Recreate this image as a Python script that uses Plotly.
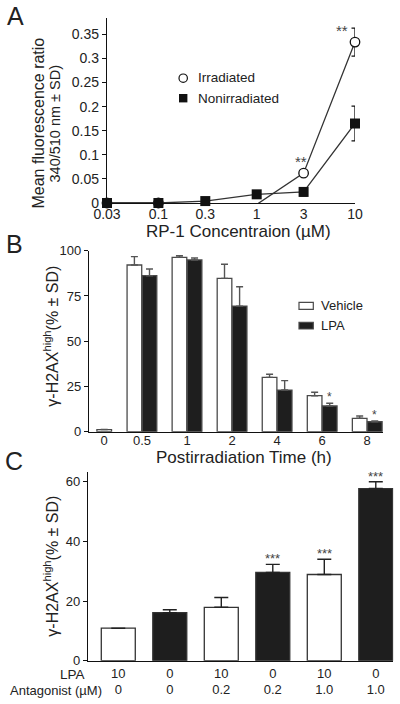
import math
import plotly.graph_objects as go

# ---------------- Panel A data ----------------
conc = [0.03, 0.1, 0.3, 1, 3, 10]
conc_labels = ["0.03", "0.1", "0.3", "1", "3", "10"]
irradiated = [0.0, 0.0, -0.004, -0.003, 0.062, 0.334]
irradiated_sd = [None, None, None, None, 0.004, 0.029]
nonirradiated = [0.0, 0.0, 0.004, 0.018, 0.023, 0.165]
nonirradiated_sd = [None, None, None, None, 0.008, 0.036]
irradiated_sig = ["", "", "", "", "**", "**"]
a_yticks = [0, 0.05, 0.1, 0.15, 0.2, 0.25, 0.3, 0.35]
a_yticklabels = ["0", "0.05", "0.1", "0.15", "0.2", "0.25", "0.3", "0.35"]

# ---------------- Panel B data ----------------
times = ["0", "0.5", "1", "2", "4", "6", "8"]
vehicle = [1.2, 92.1, 96.3, 84.7, 30.0, 19.9, 7.4]
vehicle_sd = [None, 4.6, 0.9, 7.8, 1.7, 1.9, 1.3]
lpa = [None, 86.2, 94.9, 69.4, 23.0, 14.2, 5.5]
lpa_sd = [None, 3.7, 1.1, 10.7, 5.2, 1.5, 0.4]
lpa_sig = ["", "", "", "", "", "*", "*"]
b_yticks = [0, 25, 50, 75, 100]

# ---------------- Panel C data ----------------
c_lpa = ["10", "0", "10", "0", "10", "0"]
c_antagonist = ["0", "0", "0.2", "0.2", "1.0", "1.0"]
c_values = [10.9, 16.1, 17.9, 29.6, 28.9, 57.7]
c_sd = [None, 1.0, 3.3, 2.7, 5.1, 2.3]
c_sig = ["", "", "", "***", "***", "***"]
c_yticks = [0, 20, 40, 60]

# ---------------- styling ----------------
W, H = 400, 704
FONT = "Liberation Sans, Arial, Helvetica, sans-serif"
TXT = "#222222"
BLACK = "#1e1e1e"
EDGE = "#4a4a4a"


def fx(p):
    return p / W


def fy(p):
    return 1 - p / H


fig = go.Figure()

# ---- Panel A ----
fig.add_trace(go.Scatter(
    x=conc, y=irradiated, xaxis="x", yaxis="y", mode="lines+markers",
    line=dict(color="#333333", width=1.3),
    marker=dict(symbol="circle", size=9.5, color="white", line=dict(color="#111111", width=1.3)),
    error_y=dict(type="data", array=irradiated_sd, color="#111111", thickness=1.3, width=3.5),
    cliponaxis=False, name="Irradiated"))
fig.add_trace(go.Scatter(
    x=conc, y=nonirradiated, xaxis="x", yaxis="y", mode="lines+markers",
    line=dict(color="#333333", width=1.3),
    marker=dict(symbol="square", size=10, color="#111111", line=dict(color="#111111", width=0)),
    error_y=dict(type="data", array=nonirradiated_sd, color="#111111", thickness=1.3, width=3.5),
    cliponaxis=False, name="Nonirradiated"))

# ---- Panel B ----
bw = 0.325
veh_offset = [0 if l is None else -bw - 0.005 for l in lpa]
fig.add_trace(go.Bar(
    x=list(range(len(times))), y=vehicle, xaxis="x2", yaxis="y2",
    width=bw, offset=veh_offset,
    marker=dict(color="white", line=dict(color=EDGE, width=1.3)),
    error_y=dict(type="data", symmetric=False, array=vehicle_sd,
                 arrayminus=[0] * len(times), color="#555555", thickness=1.4, width=3.5),
    name="Vehicle"))
fig.add_trace(go.Bar(
    x=list(range(len(times))), y=lpa, xaxis="x2", yaxis="y2",
    width=bw, offset=0.005,
    marker=dict(color=BLACK, line=dict(color=EDGE, width=1.3)),
    error_y=dict(type="data", symmetric=False, array=lpa_sd,
                 arrayminus=[0] * len(times), color="#555555", thickness=1.4, width=3.5),
    name="LPA"))

# ---- Panel C ----
c_colors = ["white" if l != "0" else BLACK for l in c_lpa]
fig.add_trace(go.Bar(
    x=list(range(len(c_values))), y=c_values, xaxis="x3", yaxis="y3",
    width=0.66,
    marker=dict(color=c_colors, line=dict(color="#333333", width=1.3)),
    error_y=dict(type="data", symmetric=False, array=c_sd,
                 arrayminus=[0] * len(c_values), color="#222222", thickness=1.4, width=7),
    name="C"))

axis_common = dict(showline=True, linecolor="#111111", linewidth=1.4, showgrid=False,
                   zeroline=False, automargin=False,
                   tickfont=dict(family=FONT, size=14, color=TXT))
yaxis_common = dict(axis_common, ticks="outside", ticklen=4, tickwidth=1.3, tickcolor="#111111")

b_tickvals = [i + (bw / 2 if lpa[i] is None else 0) for i in range(len(times))]

fig.update_layout(
    template="none",
    width=W, height=H, margin=dict(l=0, r=0, t=0, b=0, pad=0, autoexpand=False),
    paper_bgcolor="white", plot_bgcolor="white", showlegend=False, barmode="overlay",
    font=dict(family=FONT, color=TXT),
    xaxis=dict(axis_common, type="log", domain=[fx(107), fx(355)],
               range=[math.log10(0.03), 1], anchor="y", tickvals=conc, ticktext=conc_labels,
               ticks="", ticklabelstandoff=-2),
    yaxis=dict(yaxis_common, domain=[fy(203), fy(18)], range=[0, 0.384], anchor="x",
               tickvals=a_yticks, ticktext=a_yticklabels),
    xaxis2=dict(axis_common, domain=[fx(89), fx(383)], range=[-0.175, 6.35], anchor="y2",
                tickvals=b_tickvals, ticktext=times, ticks="", ticklabelstandoff=-4,
                tickfont=dict(family=FONT, size=13, color=TXT)),
    yaxis2=dict(yaxis_common, domain=[fy(431.7), fy(250.7)], range=[0, 100], anchor="x2",
                tickvals=b_yticks, tickfont=dict(family=FONT, size=13, color=TXT)),
    xaxis3=dict(axis_common, domain=[fx(88), fx(393.3)], range=[-0.588, 5.34], anchor="y3",
                tickvals=list(range(len(c_values))),
                ticktext=[f"{l}<br>{a}" for l, a in zip(c_lpa, c_antagonist)], ticks="",
                tickfont=dict(family=FONT, size=13, color=TXT)),
    yaxis3=dict(yaxis_common, domain=[fy(660.7), fy(471.7)], range=[0, 63.35], anchor="x3",
                tickvals=c_yticks, tickfont=dict(family=FONT, size=13, color=TXT)),
)

ann = []


def text_px(x, y, s, size, angle=0, xanchor="center", color=TXT):
    ann.append(dict(x=fx(x), y=fy(y), xref="paper", yref="paper", text=s, showarrow=False,
                    xanchor=xanchor, yanchor="middle", textangle=angle,
                    font=dict(family=FONT, size=size, color=color)))


# panel letters
text_px(15.5, 16, "A", 25)
text_px(14.5, 244, "B", 25)
text_px(14, 461, "C", 25)

# axis titles
text_px(38, 123.5, "Mean fluorescence ratio", 16, angle=-90)
text_px(54.5, 124, "340/510 nm ± SD)", 14.5, angle=-90)
text_px(238, 231, "RP-1 Concentraion (µM)", 17)
text_px(51, 336.7, "γ-H2AX<sup>high</sup>(% ± SD)", 16, angle=-90)
text_px(244.5, 457.7, "Postirradiation Time (h)", 17)
text_px(51, 566.7, "γ-H2AX<sup>high</sup>(% ± SD)", 16, angle=-90)
text_px(87, 674, "LPA", 13.5, xanchor="right")
text_px(104, 690.7, "Antagonist (µM)", 13, xanchor="right")

# legends (manual)
shapes = []
shapes.append(dict(type="circle", xref="paper", yref="paper", x0=fx(179), x1=fx(187.4),
                   y0=fy(82.4), y1=fy(74), line=dict(color="#111111", width=1.2), fillcolor="white"))
shapes.append(dict(type="rect", xref="paper", yref="paper", x0=fx(179), x1=fx(187.4),
                   y0=fy(102.4), y1=fy(94), line=dict(width=0), fillcolor="#111111"))
text_px(196, 77.5, "Irradiated", 13.5, xanchor="left")
text_px(196, 98.5, "Nonirradiated", 13.5, xanchor="left")

shapes.append(dict(type="rect", xref="paper", yref="paper", x0=fx(299), x1=fx(313.3),
                   y0=fy(309.3), y1=fy(302.3), line=dict(color=EDGE, width=1.2), fillcolor="white"))
shapes.append(dict(type="rect", xref="paper", yref="paper", x0=fx(299), x1=fx(313.3),
                   y0=fy(329), y1=fy(322.3), line=dict(color=EDGE, width=1.2), fillcolor=BLACK))
text_px(319, 305.5, "Vehicle", 13, xanchor="left")
text_px(319, 325, "LPA", 13, xanchor="left")

# significance marks
for i, s in enumerate(irradiated_sig):
    if s:
        top = irradiated[i] + (irradiated_sd[i] or 0)
        last = i == len(conc) - 1
        ann.append(dict(x=math.log10(conc[i]), y=(irradiated[i] if last else top),
                        xref="x", yref="y", text=s, showarrow=False,
                        xanchor="center", yanchor="bottom",
                        xshift=(-13 if last else -3), yshift=(1 if last else -1),
                        font=dict(family=FONT, size=15, color="#444444")))
for i, s in enumerate(lpa_sig):
    if s:
        ann.append(dict(x=i + 0.005 + bw / 2, y=lpa[i] + (lpa_sd[i] or 0), xref="x2", yref="y2",
                        text=s, showarrow=False, xanchor="center", yanchor="bottom", yshift=-3,
                        font=dict(family=FONT, size=12, color="#444444")))
for i, s in enumerate(c_sig):
    if s:
        ann.append(dict(x=i, y=c_values[i] + (c_sd[i] or 0), xref="x3", yref="y3",
                        text=s, showarrow=False, xanchor="center", yanchor="bottom", yshift=-4,
                        font=dict(family=FONT, size=13, color="#444444")))

fig.update_layout(annotations=ann, shapes=shapes)
fig.write_html("out.html", config={"displayModeBar": False},
               post_script="document.body.style.margin='0px';document.body.style.overflow='hidden';")
